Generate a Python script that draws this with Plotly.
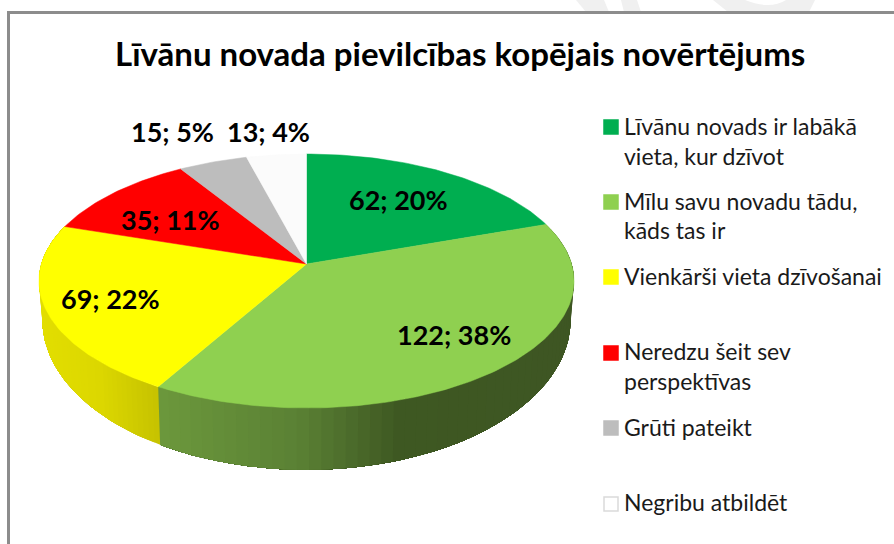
import math
import plotly.graph_objects as go

# --- data -----------------------------------------------------------------
TITLE = "Līvānu novada pievilcības kopējais novērtējums"
categories = ["Līvānu novads ir labākā<br>vieta, kur dzīvot",
              "Mīlu savu novadu tādu,<br>kāds tas ir",
              "Vienkārši vieta dzīvošanai",
              "Neredzu šeit sev<br>perspektīvas",
              "Grūti pateikt",
              "Negribu atbildēt"]
values = [62, 122, 69, 35, 15, 13]
percents = [20, 38, 22, 11, 5, 4]
colors = ["#00AE50", "#8FD050", "#FFFF00", "#FF0000", "#BDBDBD", "#FBFBFB"]

# --- layout constants (pixels of the 894x544 page) --------------------------
W, H = 894, 544
CX, CY = 306.5, 264.0      # apex of the pie
A, B, K = 265.1, 124.7, 0.1339   # perspective of the pie plane
FONT = "Lato"
label_pos = [(398, 199), (454, 334), (110, 298), (170, 219), (172, 131), (268, 131)]
legend_y = [(127, [126, 156]), (202, [201, 230]), (277, [276]),
            (353, [351, 381]), (428, [427]), (504, [502])]
# wall colour stops: x pixel -> rgb
wall_stops = {
    1: [(159, (108, 152, 60)), (300, (90, 128, 52)), (400, (62, 88, 34)), (574, (62, 86, 35))],
    2: [(40, (226, 222, 0)), (100, (220, 215, 0)), (161, (197, 193, 0))],
}
watermark_paths = [
    "M576,0 L604,0 L609,12 L586,12 Z",
    "M621,0 L637,0 L641,12 L624,12 Z",
    "M713,0 L745,0 Q770,10 786,0 L815,0 L809,12 L728,12 Z",
]


def rim(deg):
    """Point of the upper rim for a clockwise angle from 12 o'clock."""
    t = math.radians(deg)
    u, v = math.sin(t), math.cos(t)
    d = 1 + K * v
    return CX + A * u / d, CY - B * v / d


def lower(x, y):
    return CX + (x - CX) * 0.987, CY + (y - CY) * 1.18 + 36


def wall_col(stops, x):
    if x <= stops[0][0]:
        c = stops[0][1]
    elif x >= stops[-1][0]:
        c = stops[-1][1]
    else:
        for (x0, c0), (x1, c1) in zip(stops, stops[1:]):
            if x0 <= x <= x1:
                f = (x - x0) / (x1 - x0)
                c = tuple(a + (b - a) * f for a, b in zip(c0, c1))
                break
    return "rgb(%d,%d,%d)" % tuple(round(v) for v in c)


total = sum(values)
edges = [0.0]
for v in values:
    edges.append(edges[-1] + v / total * 360)

fig = go.Figure()


def poly(xs, ys, color, lw=0.5):
    fig.add_trace(go.Scatter(x=xs, y=ys, mode="lines", fill="toself", fillcolor=color,
                             line=dict(color=color, width=lw),
                             hoverinfo="skip", showlegend=False))


# side wall: each strip runs on to the end of its slice and is overdrawn by the next,
# so no background shows between the strips
for i, stops in wall_stops.items():
    a0, a1 = edges[i], edges[i + 1]
    n = 60
    for s in range(n):
        ts = [a0 + (a1 - a0) * j / n for j in range(s, n + 1)]
        up = [rim(t) for t in ts]
        lo = [lower(*p) for p in up]
        ring = up + lo[::-1] + up[:1]
        poly([p[0] for p in ring], [p[1] for p in ring],
             wall_col(stops, (up[0][0] + rim(ts[1])[0]) / 2), lw=0)

# top faces
for i, col in enumerate(colors):
    a0, a1 = edges[i], edges[i + 1]
    n = max(8, int(a1 - a0))
    pts = [rim(a0 + (a1 - a0) * j / n) for j in range(n + 1)]
    xs = [CX] + [p[0] for p in pts] + [CX]
    ys = [CY] + [p[1] for p in pts] + [CY]
    poly(xs, ys, col)

annotations = [dict(x=460, y=53, xref="x", yref="y", text="<b>%s</b>" % TITLE, showarrow=False,
                    xanchor="center", yanchor="middle",
                    font=dict(family=FONT, size=33, color="#000000"))]

# data labels
for (x, y), v, p in zip(label_pos, values, percents):
    annotations.append(dict(x=x, y=y, xref="x", yref="y", text="<b>%d; %d%%</b>" % (v, p),
                            showarrow=False, xanchor="center", yanchor="middle",
                            font=dict(family=FONT, size=27, color="#000000")))

# legend
shapes = [dict(type="path", path=p, xref="x", yref="y", fillcolor="#F0F0F0",
               line=dict(width=0), layer="below") for p in watermark_paths]
for cat, col, (ym, lines) in zip(categories, colors, legend_y):
    border = "#DADADA" if col == "#FBFBFB" else col
    shapes.append(dict(type="rect", x0=604, x1=618, y0=ym - 7, y1=ym + 7, xref="x", yref="y",
                       fillcolor="#FFFFFF" if col == "#FBFBFB" else col,
                       line=dict(color=border, width=1.5)))
    for txt, y in zip(cat.split("<br>"), lines):
        annotations.append(dict(x=622, y=y, xref="x", yref="y", text=txt, showarrow=False,
                                xanchor="left", yanchor="middle",
                                font=dict(family=FONT, size=23, color="#1A1A1A")))

# chart frame (open at the right and bottom of the crop)
shapes.append(dict(type="line", x0=8.5, x1=8.5, y0=12, y1=H, xref="x", yref="y",
                   line=dict(color="#8C8C8C", width=3)))
shapes.append(dict(type="line", x0=7, x1=W, y0=12.5, y1=12.5, xref="x", yref="y",
                   line=dict(color="#8C8C8C", width=3)))

fig.update_layout(
    width=W, height=H, margin=dict(l=0, r=0, t=0, b=0, pad=0, autoexpand=False),
    paper_bgcolor="#FFFFFF", plot_bgcolor="#FFFFFF", showlegend=False,
    xaxis=dict(range=[0, W], visible=False, fixedrange=True),
    yaxis=dict(range=[H, 0], visible=False, fixedrange=True),
    annotations=annotations, shapes=shapes,
)
fig.write_html("out.html", config=dict(displayModeBar=False),
               post_script="document.body.style.margin='0';document.body.style.overflow='hidden';")
